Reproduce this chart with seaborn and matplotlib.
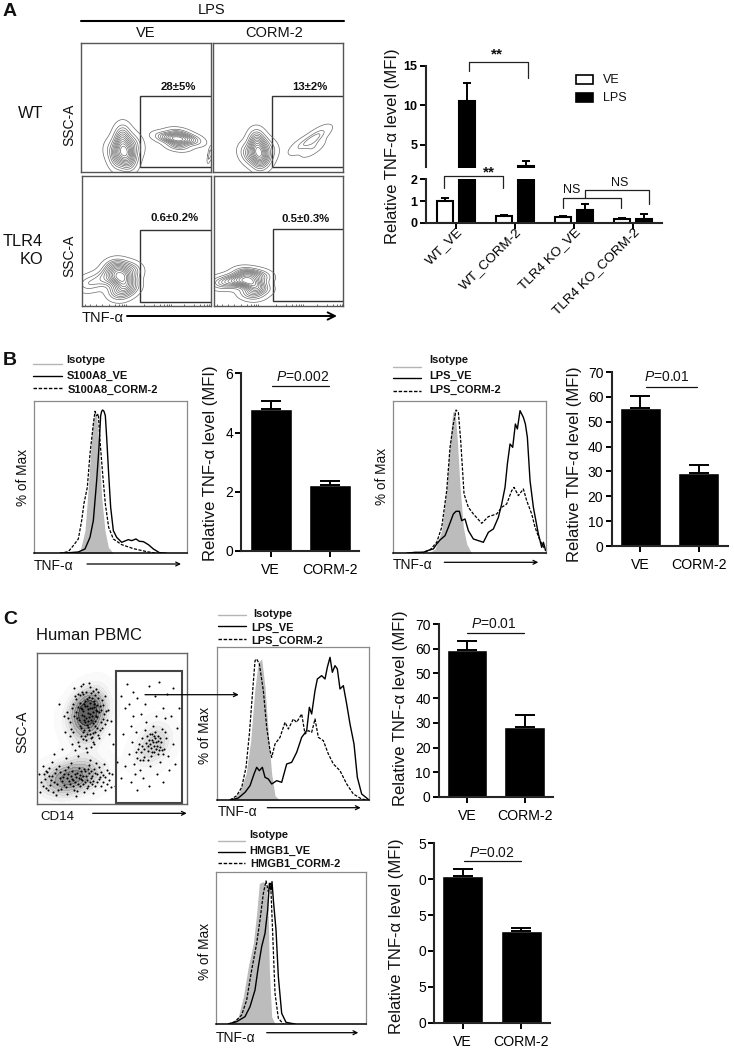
# Multi panel flow cytometry figure: contours, histograms, bar charts
from matplotlib import pyplot as plt
from matplotlib.patches import Rectangle
from matplotlib.transforms import ScaledTranslation
import pandas as pd
import seaborn as sns

W, H = 734, 1049

sns.set_theme(style='ticks')
plt.rcParams['font.family'] = ['Liberation Sans', 'DejaVu Sans']
plt.rcParams['mathtext.fontset'] = 'custom'
plt.rcParams['mathtext.it'] = 'Liberation Sans:italic'
plt.rcParams['mathtext.rm'] = 'Liberation Sans'

# panel A bars
a_groups = ['WT_VE', 'WT_CORM-2', 'TLR4 KO_VE', 'TLR4 KO_CORM-2']
a_ve = [1.0, 0.32, 0.25, 0.17]
a_lps = [10.5, 2.29, 0.57, 0.18]
a_ve_err = [0.12, 0.03, 0.05, 0.03]
a_lps_err = [2.25, 0.6, 0.28, 0.22]

# simple two bar charts
cats = ['VE', 'CORM-2']
b1_vals = [4.78, 2.23]
b1_err = [0.29, 0.14]
b2_vals = [55.6, 29.4]
b2_err = [4.7, 3.1]
c1_vals = [59.5, 28.2]
c1_err = [3.8, 5.1]
c2_vals = [20.45, 12.74]
c2_err = [0.95, 0.46]

# panel A contour populations, x, y and weight inside each plot
wt_ve_neg_x = [45, 40, 38, 50, 36, 50, 45, 42, 56, 30]
wt_ve_neg_y = [20, 30, 20, 28, 12, 12, 10, 38, 24, 22]
wt_ve_neg_w = [4, 3, 3, 2, 2, 2, 2, 2, 1, 1]
wt_ve_pos_x = [97, 88, 107, 97, 97, 112, 82]
wt_ve_pos_y = [32, 34, 33, 26, 38, 30, 35]
wt_ve_pos_w = [4, 2, 2, 2, 2, 1, 1]
wt_ve_edge_x = [130, 128, 129]
wt_ve_edge_y = [17, 14, 20]
wt_cm_neg_x = [46, 42, 50, 38, 52, 32, 46, 44, 58]
wt_cm_neg_y = [18, 26, 26, 16, 14, 20, 9, 34, 22]
wt_cm_neg_w = [4, 3, 2, 2, 2, 1, 2, 2, 1]
wt_cm_pos_x = [99, 92, 104, 86, 100, 108]
wt_cm_pos_y = [31, 28, 36, 25, 24, 38]
wt_cm_pos_w = [4, 2, 2, 1, 2, 1]
ko_ve_x = [40, 35, 45, 30, 48, 18, 6, 38]
ko_ve_y = [28, 38, 20, 30, 35, 26, 22, 14]
ko_ve_w = [4, 3, 3, 2, 2, 1, 1, 2]
ko_cm_x = [37, 33, 44, 25, 46, 14, 5, 38]
ko_cm_y = [24, 32, 18, 26, 30, 24, 22, 12]
ko_cm_w = [4, 3, 3, 3, 2, 2, 1, 2]
log_ticks = [3, 8, 14, 20, 27, 33, 37, 40, 42, 44, 62, 72, 78, 82, 85, 87, 89, 103, 113, 119, 123, 126, 128]

# isotype / VE / CORM-2 histograms
b1_iso_x = [122, 137, 152, 159, 167, 175, 182, 187, 194, 202, 212, 222, 237]
b1_iso_y = [0, 6, 68, 158, 278, 388, 423, 413, 318, 168, 68, 18, 0]
b1_ve_x = [77, 107, 132, 152, 167, 177, 187, 194, 199, 202, 205, 209, 213, 217, 223, 229, 237, 247, 262, 282, 292, 305, 315, 327, 342, 357, 375, 397]
b1_ve_y = [0, 2, 4, 13, 48, 98, 218, 318, 413, 426, 430, 426, 413, 348, 238, 138, 68, 48, 33, 41, 38, 43, 36, 35, 26, 13, 2, 0]
b1_cm_x = [77, 102, 117, 132, 142, 149, 159, 167, 177, 182, 187, 192, 197, 205, 213, 223, 237, 262, 297, 337, 367]
b1_cm_y = [0, 5, 23, 43, 98, 150, 198, 298, 388, 426, 413, 418, 338, 238, 148, 78, 43, 26, 14, 5, 0]

b2_iso_x = [107, 127, 147, 162, 172, 180, 187, 194, 202, 212, 222, 237]
b2_iso_y = [0, 13, 68, 198, 338, 423, 428, 338, 198, 78, 28, 0]
b2_ve_x = [42, 67, 92, 110, 122, 132, 142, 157, 167, 182, 190, 200, 207, 217, 227, 242, 257, 272, 287, 302, 317, 327, 337, 344, 352, 360, 368, 374, 382, 392, 398, 404, 412, 422, 437, 447, 452, 459]
b2_ve_y = [0, 3, 3, 10, 13, 28, 40, 53, 78, 118, 126, 126, 98, 103, 68, 43, 38, 33, 63, 73, 108, 148, 198, 268, 328, 318, 388, 373, 428, 408, 388, 348, 218, 138, 58, 18, 33, 8]
b2_cm_x = [42, 92, 112, 132, 147, 162, 172, 182, 190, 197, 204, 214, 227, 242, 267, 287, 312, 327, 342, 357, 364, 377, 392, 402, 417, 427, 442, 459]
b2_cm_y = [0, 3, 10, 33, 78, 188, 318, 388, 430, 423, 338, 178, 138, 118, 90, 110, 118, 138, 148, 188, 198, 173, 193, 158, 118, 78, 38, 8]

c1_iso_x = [50, 70, 88, 102, 115, 125, 135, 145, 155, 165, 175, 188]
c1_iso_y = [0, 28, 78, 178, 338, 413, 423, 338, 198, 78, 13, 0]
c1_ve_x = [40, 65, 85, 100, 112, 120, 128, 137, 145, 155, 165, 180, 195, 210, 225, 240, 255, 270, 278, 285, 295, 302, 315, 325, 332, 340, 347, 355, 362, 370, 380, 390, 400, 412, 422, 435, 450, 457]
c1_ve_y = [0, 6, 23, 43, 78, 98, 88, 98, 68, 63, 48, 58, 53, 108, 113, 143, 188, 208, 278, 258, 328, 363, 373, 363, 398, 428, 383, 403, 393, 333, 343, 288, 228, 168, 68, 18, 6, 0]
c1_cm_x = [40, 60, 75, 88, 98, 108, 115, 120, 128, 140, 150, 160, 165, 175, 190, 205, 215, 230, 240, 255, 265, 275, 285, 295, 305, 320, 335, 350, 370, 390, 410, 435, 450]
c1_cm_y = [0, 13, 38, 98, 198, 328, 418, 423, 408, 328, 218, 148, 128, 168, 188, 233, 213, 243, 233, 258, 198, 208, 203, 243, 188, 178, 138, 108, 88, 48, 18, 3, 0]

c2_iso_x = [42, 67, 82, 97, 112, 122, 130, 142, 152, 157, 160, 167, 177]
c2_iso_y = [0, 22, 82, 172, 242, 332, 422, 427, 412, 312, 162, 22, 0]
c2_ve_x = [37, 62, 87, 102, 117, 127, 137, 147, 155, 160, 165, 168, 172, 180, 187, 197, 210, 237]
c2_ve_y = [0, 7, 22, 52, 102, 172, 232, 272, 342, 422, 402, 427, 372, 282, 142, 32, 5, 0]
c2_cm_x = [37, 57, 77, 92, 107, 122, 132, 142, 150, 157, 164, 170, 177, 187, 202]
c2_cm_y = [0, 7, 27, 72, 162, 242, 312, 392, 429, 397, 422, 272, 92, 17, 0]

# human PBMC density centres and single events
pbmc_x = [52, 52, 50, 55, 48, 45, 60, 40, 58, 50, 35, 20, 50, 62, 10, 30, 45, 117, 120, 112, 105, 115, 125, 118]
pbmc_y = [91, 100, 82, 110, 70, 100, 95, 88, 75, 60, 28, 26, 28, 30, 24, 20, 34, 61, 66, 55, 50, 45, 58, 75]
pbmc_w = [5, 4, 4, 2, 2, 2, 2, 2, 2, 1, 5, 4, 4, 2, 2, 3, 2, 2, 2, 1, 1, 1, 1, 1]
pbmc_dots = [
    (30, 92), (34, 75), (38, 108), (41, 62), (44, 118), (47, 84), (50, 98), (53, 70), (56, 113), (59, 88),
    (62, 66), (65, 104), (68, 80), (71, 94), (36, 100), (40, 86), (43, 78), (46, 110), (49, 64), (52, 121),
    (55, 96), (58, 72), (61, 106), (64, 82), (67, 90), (33, 68), (37, 116), (42, 58), (45, 95), (48, 103),
    (51, 77), (54, 111), (57, 60), (60, 99), (63, 74), (66, 85), (69, 93), (28, 72), (31, 86), (35, 60),
    (39, 105), (44, 68), (47, 88), (50, 52), (53, 101), (56, 81), (59, 115), (62, 92), (65, 76), (38, 54),
    (41, 97), (46, 120), (49, 56), (52, 107), (55, 67), (58, 83), (61, 69), (43, 109), (47, 74), (51, 91),
    (54, 57), (57, 100), (60, 87), (46, 65), (50, 79), (53, 117), (56, 71), (59, 94), (25, 55), (72, 70),
    (27, 88), (74, 83), (48, 82), (52, 87), (44, 96), (57, 103), (41, 110), (60, 93), (22, 100), (76, 60),
    (45, 89), (46, 93), (48, 98), (49, 86), (50, 105), (51, 95), (53, 90), (54, 84), (55, 106), (56, 92),
    (43, 101), (47, 100), (49, 112), (51, 83), (53, 96), (55, 88), (57, 97), (58, 78), (42, 84), (44, 76),
    (46, 72), (48, 68), (52, 74), (54, 66), (56, 62), (50, 70), (45, 112), (58, 109), (61, 112), (63, 98),
    (39, 92), (37, 88), (35, 96), (33, 82), (64, 94), (66, 99), (68, 108), (70, 84), (36, 72), (60, 76),
    (4, 22), (7, 30), (9, 16), (12, 36), (14, 24), (16, 12), (18, 31), (20, 20), (22, 38), (24, 15),
    (26, 27), (28, 34), (30, 10), (32, 23), (34, 41), (36, 18), (38, 30), (40, 13), (42, 36), (44, 25),
    (46, 20), (48, 33), (50, 16), (52, 39), (54, 26), (56, 11), (58, 31), (60, 22), (62, 37), (64, 18),
    (66, 29), (68, 14), (70, 34), (72, 24), (6, 38), (11, 14), (15, 42), (19, 9), (23, 26), (27, 19),
    (31, 37), (35, 25), (39, 8), (43, 29), (47, 12), (51, 35), (55, 20), (59, 41), (63, 27), (67, 40),
    (29, 46), (41, 48), (53, 44), (75, 30), (78, 18), (3, 12), (2, 30), (80, 42), (84, 26), (17, 50),
    (8, 25), (10, 32), (13, 19), (15, 28), (17, 22), (19, 35), (21, 14), (23, 32), (25, 23), (27, 30),
    (29, 17), (30, 26), (31, 30), (33, 20), (34, 28), (35, 33), (36, 24), (37, 14), (38, 22), (39, 27),
    (40, 31), (41, 20), (42, 26), (43, 18), (44, 33), (45, 24), (46, 28), (47, 35), (48, 22), (49, 28),
    (50, 24), (51, 18), (52, 31), (53, 22), (54, 33), (55, 28), (56, 23), (57, 35), (58, 18), (60, 30),
    (62, 25), (64, 32), (66, 22), (68, 27), (70, 20), (72, 31), (12, 28), (6, 18), (9, 33), (74, 17),
    (92, 50), (95, 62), (97, 40), (99, 72), (101, 55), (103, 34), (105, 66), (107, 47), (109, 82), (111, 58),
    (113, 38), (115, 70), (117, 52), (119, 88), (121, 63), (123, 42), (125, 75), (127, 55), (129, 66), (131, 48),
    (94, 78), (98, 30), (102, 60), (106, 44), (110, 68), (114, 56), (116, 62), (118, 66), (120, 58), (122, 54),
    (112, 64), (114, 48), (118, 72), (124, 62), (126, 50), (108, 74), (100, 46), (104, 52), (116, 78), (128, 72),
    (113, 60), (115, 64), (117, 58), (119, 62), (121, 68), (123, 57), (111, 53), (109, 61), (107, 55), (105, 58),
    (115, 52), (117, 68), (119, 55), (121, 50), (123, 66), (125, 54), (113, 70), (111, 44), (103, 44), (99, 52),
    (90, 120), (96, 112), (100, 106), (108, 100), (112, 118), (118, 108), (122, 122), (126, 96), (130, 110), (134, 88),
    (88, 96), (92, 100), (84, 108), (86, 70), (88, 38), (94, 22), (100, 14), (106, 26), (112, 18), (120, 30),
    (126, 22), (132, 34), (136, 60), (138, 40), (140, 76), (142, 96), (136, 116), (104, 90), (96, 88), (128, 86),
]

fig = plt.figure(figsize=(W / 100, H / 100), dpi=100)


def px_axes(x0, y0, x1, y1):
    return fig.add_axes([x0 / W, 1 - y1 / H, (x1 - x0) / W, (y1 - y0) / H])


def frame(ax, color='#555555', lw=1.0):
    ax.set_xticks([])
    ax.set_yticks([])
    ax.set_xlabel('')
    ax.set_ylabel('')
    for s in ax.spines.values():
        s.set_color(color)
        s.set_linewidth(lw)
        s.set_visible(True)


def blob(ax, xs, ys, ws=None, levels=12, adj=0.5):
    sns.kdeplot(x=xs, y=ys, weights=ws, levels=levels, thresh=0.025, bw_adjust=adj,
                color='#6a6a6a', linewidths=0.5, ax=ax)


def contour_panel(rect, gate, pops, label, label_x, label_y):
    ax = px_axes(*rect)
    for p in pops:
        blob(ax, *p[:3], levels=p[3], adj=p[4])
    ax.set_xlim(0, rect[2] - rect[0])
    ax.set_ylim(0, rect[3] - rect[1])
    frame(ax)
    ax.add_patch(Rectangle(gate[:2], gate[2], gate[3], fill=False, ec='#333333', lw=1.0))
    ax.text(label_x, label_y, label, ha='center', va='center',
            fontsize=8.2, fontweight='bold', color='#111111')
    return ax


def hist_panel(rect, iso, ve, cm, xmax, ymax):
    ax = px_axes(*rect)
    ax.fill_between(iso[0], iso[1], color='#bcbcbc', lw=0)
    sns.lineplot(x=ve[0], y=ve[1], estimator=None, sort=False, color='black', lw=1.0, ax=ax)
    sns.lineplot(x=cm[0], y=cm[1], estimator=None, sort=False, color='black', lw=0.9,
                 dashes=(2.5, 1.2), ax=ax)
    ax.set_xlim(0, xmax)
    ax.set_ylim(0, ymax)
    frame(ax, '#8a8a8a', 0.9)
    ax.spines['bottom'].set_color('black')
    ax.spines['bottom'].set_linewidth(1.1)
    return ax


def bar_panel(rect, c0, c1, bar_w, vals, errs, ylim, ticks, ticklabels=None):
    ax = px_axes(*rect)
    sns.barplot(x=cats, y=vals, color='black', saturation=1, width=bar_w / (c1 - c0), ax=ax)
    ax.errorbar([0, 1], vals, yerr=[[0, 0], errs], fmt='none', ecolor='black',
                elinewidth=1.4, capsize=7, capthick=1.4)
    ax.set_xlim((rect[0] - c0) / (c1 - c0), (rect[2] - c0) / (c1 - c0))
    ax.set_ylim(*ylim)
    ax.set_yticks(ticks)
    if ticklabels:
        ax.set_yticklabels(ticklabels)
    sns.despine(ax=ax)
    ax.spines['left'].set_linewidth(1.5)
    ax.spines['bottom'].set_linewidth(1.5)
    ax.tick_params(width=1.4, length=4.5, labelsize=10, pad=1.5, colors='black')
    ax.set_xlabel('')
    ax.set_ylabel('')
    for t in ax.get_xticklabels():
        t.set_fontsize(10.2)
    ax.tick_params(axis='x', pad=4)
    return ax


# Panel A contour plots
contour_panel((81, 42.5, 211, 171.5), (58.5, 4.5, 72, 71.5),
              [(wt_ve_neg_x, wt_ve_neg_y, wt_ve_neg_w, 13, 1.15),
               (wt_ve_pos_x, wt_ve_pos_y, wt_ve_pos_w, 11, 1.15),
               (wt_ve_edge_x, wt_ve_edge_y, None, 3, 1.0)], '28±5%', 97.7, 84.5)
contour_panel((213, 42.5, 343, 171.5), (58.5, 4.5, 72, 71.5),
              [(wt_cm_neg_x, wt_cm_neg_y, wt_cm_neg_w, 13, 1.15),
               (wt_cm_pos_x, wt_cm_pos_y, wt_cm_pos_w, 4, 1.15)], '13±2%', 97.3, 84.5)
ax = contour_panel((81.5, 176.5, 211, 306), (58.5, 4, 72, 72),
                   [(ko_ve_x, ko_ve_y, ko_ve_w, 13, 0.9)], '0.6±0.2%', 93, 87.7)
ax.set_xticks(log_ticks)
ax.set_xticklabels([])
ax.tick_params(axis='x', direction='in', length=1.5, width=0.5, color='#333333')
ax = contour_panel((213.5, 176.5, 343, 306), (59, 5, 72, 72),
                   [(ko_cm_x, ko_cm_y, ko_cm_w, 13, 0.9)], '0.5±0.3%', 92, 86.7)
ax.set_xticks(log_ticks)
ax.set_xticklabels([])
ax.tick_params(axis='x', direction='in', length=1.5, width=0.5, color='#333333')

# Panel A broken bar chart
a_df = pd.DataFrame({
    'group': a_groups * 2,
    'treat': ['VE'] * 4 + ['LPS'] * 4,
    'value': a_ve + a_lps,
})
a_top = px_axes(426, 65.7, 661.7, 167.5)
a_low = px_axes(426, 179.3, 661.7, 222.7)
for ax in [a_top, a_low]:
    sns.barplot(data=a_df, x='group', y='value', hue='treat', palette={'VE': 'white', 'LPS': 'black'},
                saturation=1, width=0.746, gap=0.25, edgecolor='black', linewidth=1.5, legend=False, ax=ax)
    for bars, v, e in zip(ax.containers, [a_ve, a_lps], [a_ve_err, a_lps_err]):
        xs = [b.get_x() + b.get_width() / 2 for b in bars]
        ax.errorbar(xs, v, yerr=[[0] * 4, e], fmt='none', ecolor='black', elinewidth=1.4, capsize=3, capthick=1.4)
    ax.set_xlim(-0.508, 3.486)
    ax.set_xlabel('')
    ax.set_ylabel('')
    sns.despine(ax=ax)
    ax.spines['left'].set_linewidth(1.5)
    ax.spines['bottom'].set_linewidth(1.5)
    ax.tick_params(width=1.4, length=4.5, pad=1.5, colors='black')
a_top.set_ylim(2.1, 15)
a_top.set_yticks([5, 10, 15])
a_top.set_yticklabels(['5', '10', '15'], fontsize=9, fontweight='bold')
a_top.spines['bottom'].set_visible(False)
a_top.set_xticks([])
a_low.set_ylim(0, 2)
a_low.set_yticks([0, 1, 2])
a_low.set_yticklabels(['0', '1', '2'], fontsize=9, fontweight='bold')
a_low.set_xticks(range(4))
a_low.set_xticklabels(a_groups, rotation=45, ha='right', va='center', rotation_mode='anchor', fontsize=9.7)
a_low.tick_params(axis='x', pad=1)
for t in a_low.get_xticklabels():
    t.set_transform(t.get_transform() + ScaledTranslation(0.05, 0, fig.dpi_scale_trans))

# Panel B and C histograms and bars
hist_panel((34.3, 401, 186.7, 553.3), (b1_iso_x, b1_iso_y), (b1_ve_x, b1_ve_y), (b1_cm_x, b1_cm_y), 457, 457)
hist_panel((392.7, 401, 545.7, 553.3), (b2_iso_x, b2_iso_y), (b2_ve_x, b2_ve_y), (b2_cm_x, b2_cm_y), 459, 457)
hist_panel((216.7, 647.3, 369, 800), (c1_iso_x, c1_iso_y), (c1_ve_x, c1_ve_y), (c1_cm_x, c1_cm_y), 457, 458)
hist_panel((216, 872.3, 365.7, 1024), (c2_iso_x, c2_iso_y), (c2_ve_x, c2_ve_y), (c2_cm_x, c2_cm_y), 449, 455)

bar_panel((241.3, 373.3, 359.3, 551), 270.8, 330, 41.5, b1_vals, b1_err, (0, 6), [0, 2, 4, 6])
bar_panel((611.7, 372, 728.3, 546), 640.3, 698.7, 40.7, b2_vals, b2_err, (0, 70), list(range(0, 71, 10)))
bar_panel((439, 624, 553.3, 797), 467.2, 524.5, 40.3, c1_vals, c1_err, (0, 70), list(range(0, 71, 10)))
bar_panel((434.3, 843.3, 550, 1022.7), 462.8, 521.2, 41, c2_vals, c2_err, (0, 25), [0, 5, 10, 15, 20, 25],
          ['0', '5', '0', '5', '0', '5'])

# Panel C dot plot
ax = px_axes(36.7, 653.3, 187.3, 804.3)
sns.kdeplot(x=pbmc_x, y=pbmc_y, weights=pbmc_w, fill=True, cmap='Greys', levels=10, thresh=0.025,
            bw_adjust=0.6, alpha=0.7, ax=ax)
sns.scatterplot(x=[d[0] for d in pbmc_dots], y=[d[1] for d in pbmc_dots], s=2.2, color='black',
                linewidth=0, ax=ax)
ax.set_xlim(0, 150.6)
ax.set_ylim(0, 151)
frame(ax, '#666666', 1.0)
ax.add_patch(Rectangle((79, 1), 66.6, 132, fill=False, ec='#444444', lw=1.5))

# overlay in pixel units for labels, arrows and brackets
ov = fig.add_axes([0, 0, 1, 1], zorder=10)
ov.set_xlim(0, W)
ov.set_ylim(H, 0)
ov.axis('off')


def txt(x, y, s, size=10, ha='center', rot=0, weight='normal'):
    ov.text(x, y, s, fontsize=size, ha=ha, va='center', rotation=rot, fontweight=weight, color='#111111')


def arrow(x0, x1, y, lw=0.9, scale=7):
    ov.annotate('', xy=(x1, y), xytext=(x0, y),
                arrowprops=dict(arrowstyle='->', lw=lw, color='black', shrinkA=0, shrinkB=0, mutation_scale=scale))


def bracket(x0, x1, top, left_end, right_end):
    ov.plot([x0, x0, x1, x1], [left_end, top, top, right_end], color='#222222', lw=0.9)


def hist_legend(line_x0, line_x1, line_y, text_x, text_y, names):
    styles = [('#b5b5b5', '-'), ('black', '-'), ('black', (0, (2.5, 1.2)))]
    for (c, ls), ly in zip(styles, line_y):
        ov.plot([line_x0, line_x1], [ly, ly], color=c, ls=ls, lw=1.0)
    for tx, ty, n in zip(text_x, text_y, names):
        txt(tx, ty, n, size=8, ha='left', weight='bold')


def p_value(x, y, s, x0, x1, ly):
    txt(x, y, '$\\mathit{P}$=' + s, size=10)
    ov.plot([x0, x1], [ly, ly], color='#111111', lw=0.9)


ylab = 'Relative TNF-α level (MFI)'

# panel letters
for lx, ly, s in [(10, 11.7, 'A'), (10, 360.7, 'B'), (10, 620, 'C')]:
    txt(lx, ly, s, size=14, weight='bold')

# Panel A text
ov.plot([81, 344], [20.7, 20.7], color='black', lw=1.5)
txt(212, 10, 'LPS', size=10.5)
txt(146, 33, 'VE', size=10.5)
txt(274, 33, 'CORM-2', size=10.5)
txt(43, 113, 'WT', size=11.8, ha='right')
txt(43, 241, 'TLR4', size=11.8, ha='right')
txt(43, 259, 'KO', size=11.8, ha='right')
txt(69, 125, 'SSC-A', size=10, rot=90)
txt(69, 256, 'SSC-A', size=10, rot=90)
txt(82, 318, 'TNF-α', size=10.5, ha='left')
arrow(127, 337, 316, lw=1.4, scale=13)
txt(393, 146, ylab, size=12, rot=90)
bracket(469, 528, 61.7, 70.7, 78.3)
txt(496.7, 54, '**', size=11, weight='bold')
bracket(444.3, 503, 175.7, 187.7, 187.7)
txt(488.7, 172, '**', size=11, weight='bold')
bracket(562.7, 621.3, 198, 208, 208)
txt(572, 190, 'NS', size=9)
bracket(585, 649, 190.3, 198, 204)
txt(620, 183, 'NS', size=9)
ov.add_patch(Rectangle((576, 75), 16.7, 9, fc='white', ec='black', lw=1.2))
ov.add_patch(Rectangle((576, 92.7), 16.7, 9.6, fc='black', ec='black', lw=1.2))
txt(602.7, 80, 'VE', size=9, ha='left')
txt(602.7, 98, 'LPS', size=9, ha='left')

# Panel B text
hist_legend(33, 62, [364, 375.7, 388], [66.7, 66.7, 68], [360, 375.7, 390], ['Isotype', 'S100A8_VE', 'S100A8_CORM-2'])
txt(22.7, 477.7, '% of Max', size=9.8, rot=90)
txt(34, 566, 'TNF-α', size=10, ha='left')
arrow(87, 181, 564)
txt(210, 463, ylab, size=12, rot=90)
p_value(303, 376.7, '0.002', 271.7, 329.3, 386)

hist_legend(393.3, 420.7, [366.7, 377.7, 390.7], [429.3, 429.3, 429.3], [360, 376, 390], ['Isotype', 'LPS_VE', 'LPS_CORM-2'])
txt(381.7, 476.7, '% of Max', size=9.8, rot=90)
txt(393, 565, 'TNF-α', size=10, ha='left')
arrow(444.3, 538.3, 562.3)
txt(574.3, 464, ylab, size=12, rot=90)
p_value(666.7, 376.7, '0.01', 645.7, 697.3, 386.7)

# Panel C text
txt(36, 635, 'Human PBMC', size=11.9, ha='left')
txt(22.7, 731.7, 'SSC-A', size=10, rot=90)
txt(40.7, 817, 'CD14', size=9.5, ha='left')
arrow(92.7, 186.7, 813.3)
arrow(145, 238.7, 694.7)

hist_legend(218.3, 246, [615, 626, 639.3], [253.3, 251.7, 251.7], [614, 627.7, 640.7], ['Isotype', 'LPS_VE', 'LPS_CORM-2'])
txt(205, 735, '% of Max', size=9.8, rot=90)
txt(218, 812, 'TNF-α', size=10, ha='left')
arrow(267.3, 360.7, 807.7)
txt(400.7, 708.5, ylab, size=12, rot=90)
p_value(494.3, 624, '0.01', 467.3, 524, 632.7)

hist_legend(218.3, 245, [840.7, 852.3, 863.3], [249, 249, 250], [835.3, 851, 864], ['Isotype', 'HMGB1_VE', 'HMGB1_CORM-2'])
txt(205, 951.7, '% of Max', size=9.8, rot=90)
txt(216, 1037.7, 'TNF-α', size=10, ha='left')
arrow(266.7, 358.3, 1032.7)
txt(396.7, 936, ylab, size=12, rot=90)
p_value(491.7, 852.7, '0.02', 464, 520.7, 860.7)

fig.savefig('out.png', dpi=100)
plt.close(fig)
